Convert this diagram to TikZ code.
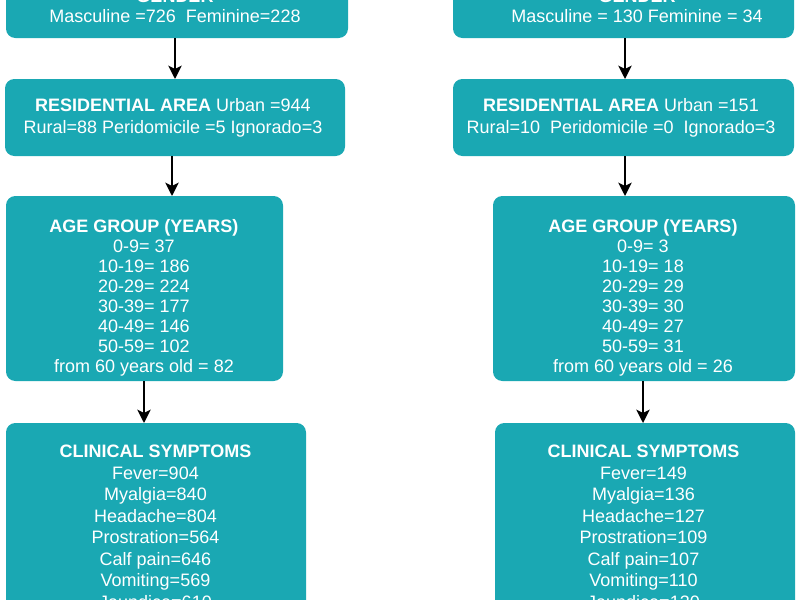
\documentclass[tikz,border=0pt]{standalone}
\usepackage{fontspec}
\setmainfont{Liberation Sans}
\usetikzlibrary{arrows.meta}
\definecolor{teal1}{RGB}{26,168,179}
\begin{document}
\begin{tikzpicture}[x=0.75pt,y=-0.75pt,
  box/.style={draw=none,fill=teal1,rounded corners=7pt,inner sep=0pt,outer sep=0pt,anchor=north west},
  txt/.style={text=white,align=center,inner sep=0pt,anchor=base},
  arr/.style={draw=black,line width=1.5pt,-{Stealth[length=10pt,width=10pt,inset=2.5pt]}}]
\useasboundingbox (0,0) rectangle (800,600);
\clip (0,0) rectangle (800,600);
% left column
\node[box,minimum width=256.5pt,minimum height=58.5pt] (gL) at (6,-40) {};
\node[box,minimum width=255pt,minimum height=57.75pt] (rL) at (5,79) {};
\node[box,minimum width=207.75pt,minimum height=138.75pt] (aL) at (6,196) {};
\node[box,minimum width=225pt,minimum height=207.75pt] (cL) at (6,423) {};
% right column
\node[box,minimum width=255.75pt,minimum height=58.5pt] (gR) at (453,-40) {};
\node[box,minimum width=255.75pt,minimum height=57.75pt] (rR) at (453,79) {};
\node[box,minimum width=226.5pt,minimum height=138.75pt] (aR) at (493,196) {};
\node[box,minimum width=225pt,minimum height=207.75pt] (cR) at (495,423) {};
% texts left (anchor base = baseline of last line)
\node[txt,font=\fontsize{13.5}{15}\selectfont] (tgL) at (175,22.5) {\textbf{GENDER}\\Masculine =726\ \ Feminine=228};
\node[txt,font=\fontsize{13.5}{16.5}\selectfont] (trL) at (173,133.5) {\textbf{RESIDENTIAL AREA} Urban =944\\Rural=88 Peridomicile =5 Ignorado=3};
\node[txt,font=\fontsize{13.5}{15}\selectfont] (taL) at (144,372.5) {\textbf{AGE GROUP (YEARS)}\\0-9= 37\\10-19= 186\\20-29= 224\\30-39= 177\\40-49= 146\\50-59= 102\\from 60 years old = 82};
\node[txt,font=\fontsize{13.5}{16.1}\selectfont] (tcL) at (155.5,608) {\textbf{CLINICAL SYMPTOMS}\\Fever=904\\Myalgia=840\\Headache=804\\Prostration=564\\Calf pain=646\\Vomiting=569\\Jaundice=610};
% texts right
\node[txt,font=\fontsize{13.5}{15}\selectfont] (tgR) at (637,22.5) {\textbf{GENDER}\\Masculine = 130 Feminine = 34};
\node[txt,font=\fontsize{13.5}{16.5}\selectfont] (trR) at (621,133.5) {\textbf{RESIDENTIAL AREA} Urban =151\\Rural=10\ \ Peridomicile =0\ \ Ignorado=3};
\node[txt,font=\fontsize{13.5}{15}\selectfont] (taR) at (643,372.5) {\textbf{AGE GROUP (YEARS)}\\0-9= 3\\10-19= 18\\20-29= 29\\30-39= 30\\40-49= 27\\50-59= 31\\from 60 years old = 26};
\node[txt,font=\fontsize{13.5}{16.1}\selectfont] (tcR) at (643.5,608) {\textbf{CLINICAL SYMPTOMS}\\Fever=149\\Myalgia=136\\Headache=127\\Prostration=109\\Calf pain=107\\Vomiting=110\\Jaundice=130};
% arrows
\draw[arr] (gL.south -| 175,0) -- (rL.north -| 175,0);
\draw[arr] (rL.south -| 172,0) -- (aL.north -| 172,0);
\draw[arr] (aL.south -| 144,0) -- (cL.north -| 144,0);
\draw[arr] (gR.south -| 625,0) -- (rR.north -| 625,0);
\draw[arr] (rR.south -| 625,0) -- (aR.north -| 625,0);
\draw[arr] (aR.south -| 643,0) -- (cR.north -| 643,0);
\end{tikzpicture}
\end{document}
